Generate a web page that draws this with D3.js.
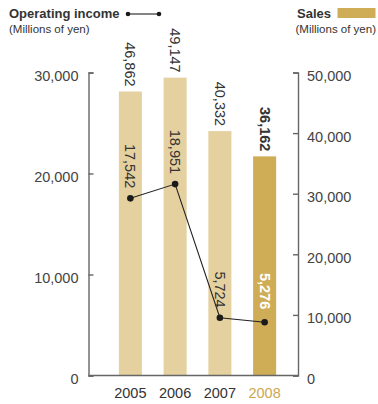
<!DOCTYPE html>
<html>
<head>
<meta charset="utf-8">
<script src="https://cdn.jsdelivr.net/npm/d3@7"></script>
<style>
html,body{margin:0;padding:0;background:#fff;}
svg{display:block;font-family:"Liberation Sans",Arial,sans-serif;}
</style>
</head>
<body>
<svg id="chart" width="378" height="404"></svg>
<script>
const years = ["2005", "2006", "2007", "2008"];
const sales = [46862, 49147, 40332, 36162];
const operatingIncome = [17542, 18951, 5724, 5276];
const leftTicks = [0, 10000, 20000, 30000];
const rightTicks = [0, 10000, 20000, 30000, 40000, 50000];

const svg = d3.select("#chart");
const plotTop = 72.5, plotBottom = 375.5, leftX = 88.5, rightX = 298;
const lightGold = "#e5d0a0", darkGold = "#cfad57", ink = "#333", axisCol = "#666";

const x = d3.scaleBand().domain(years).range([108, 287]).paddingInner(0.485).paddingOuter(0.2425);
const yL = d3.scaleLinear().domain([0, 30000]).range([plotBottom, plotTop]);
const yR = d3.scaleLinear().domain([0, 50000]).range([plotBottom, plotTop]);
const fmt = d3.format(",");
const cx = d => x(d) + x.bandwidth() / 2;

// bars
svg.append("g").selectAll("rect").data(years).join("rect")
  .attr("x", d => x(d)).attr("width", x.bandwidth())
  .attr("y", (d, i) => yR(sales[i])).attr("height", (d, i) => plotBottom - yR(sales[i]))
  .attr("fill", (d, i) => i === years.length - 1 ? darkGold : lightGold);

// axes
const gl = svg.append("g").attr("transform", `translate(${leftX},0)`)
  .call(d3.axisLeft(yL).tickValues(leftTicks).tickFormat(fmt).tickSizeInner(-5).tickSizeOuter(-5).tickPadding(10));
const gr = svg.append("g").attr("transform", `translate(${rightX},0)`)
  .call(d3.axisRight(yR).tickValues(rightTicks).tickFormat(fmt).tickSizeInner(-5).tickSizeOuter(-5).tickPadding(9));
[gl, gr].forEach(g => {
  g.selectAll("path,line").attr("stroke", axisCol).attr("stroke-width", 1.4);
  g.selectAll("text").attr("fill", "#444").attr("font-size", "14.5px")
    .attr("font-family", "Liberation Sans, Arial, sans-serif").attr("dy", "0.55em");
});
svg.append("line").attr("x1", leftX).attr("x2", rightX).attr("y1", plotBottom).attr("y2", plotBottom)
  .attr("stroke", axisCol).attr("stroke-width", 1.4);

// year labels
svg.append("g").selectAll("text").data(years).join("text")
  .attr("x", cx).attr("y", 398).attr("text-anchor", "middle")
  .attr("font-size", "14.5px")
  .attr("fill", (d, i) => i === years.length - 1 ? "#cba850" : "#333")
  .text(d => d);

// line
const line = d3.line().x((d, i) => cx(years[i])).y(d => yL(d));
svg.append("path").datum(operatingIncome).attr("d", line)
  .attr("fill", "none").attr("stroke", "#222").attr("stroke-width", 1.1);
svg.append("g").selectAll("circle").data(operatingIncome).join("circle")
  .attr("cx", (d, i) => cx(years[i])).attr("cy", d => yL(d)).attr("r", 3.3).attr("fill", "#1a1a1a");

// sales labels
svg.append("g").selectAll("text").data(sales).join("text")
  .attr("transform", (d, i) => `translate(${cx(years[i])},${yR(d) - 5}) rotate(90)`)
  .attr("text-anchor", "end").attr("dominant-baseline", "central")
  .attr("font-size", "14.5px").attr("fill", ink)
  .attr("font-weight", (d, i) => i === years.length - 1 ? "bold" : "normal")
  .text(d => fmt(d));

// operating income labels
svg.append("g").selectAll("text").data(operatingIncome).join("text")
  .attr("transform", (d, i) => `translate(${cx(years[i])},${yL(d) - (i === years.length - 1 ? 13 : 10)}) rotate(90)`)
  .attr("text-anchor", "end").attr("dominant-baseline", "central")
  .attr("font-size", "14.5px")
  .attr("fill", (d, i) => i === years.length - 1 ? "#fff" : ink)
  .attr("font-weight", (d, i) => i === years.length - 1 ? "bold" : "normal")
  .text(d => fmt(d));

// legends
svg.append("text").attr("x", 9).attr("y", 18).attr("font-size", "13px").attr("font-weight", "bold").attr("fill", ink).text("Operating income");
svg.append("text").attr("x", 9).attr("y", 33).attr("font-size", "11.5px").attr("fill", ink).text("(Millions of yen)");
svg.append("line").attr("x1", 128).attr("x2", 159).attr("y1", 14).attr("y2", 14).attr("stroke", "#222").attr("stroke-width", 1.1);
svg.append("circle").attr("cx", 128).attr("cy", 14).attr("r", 2.3).attr("fill", "#1a1a1a");
svg.append("circle").attr("cx", 159).attr("cy", 14).attr("r", 2.3).attr("fill", "#1a1a1a");

svg.append("text").attr("x", 297).attr("y", 18).attr("font-size", "13px").attr("font-weight", "bold").attr("fill", ink).text("Sales");
svg.append("rect").attr("x", 337.5).attr("y", 8).attr("width", 38).attr("height", 10).attr("fill", darkGold);
svg.append("text").attr("x", 376).attr("y", 33).attr("text-anchor", "end").attr("font-size", "11.5px").attr("fill", ink).text("(Millions of yen)");
</script>
</body>
</html>
